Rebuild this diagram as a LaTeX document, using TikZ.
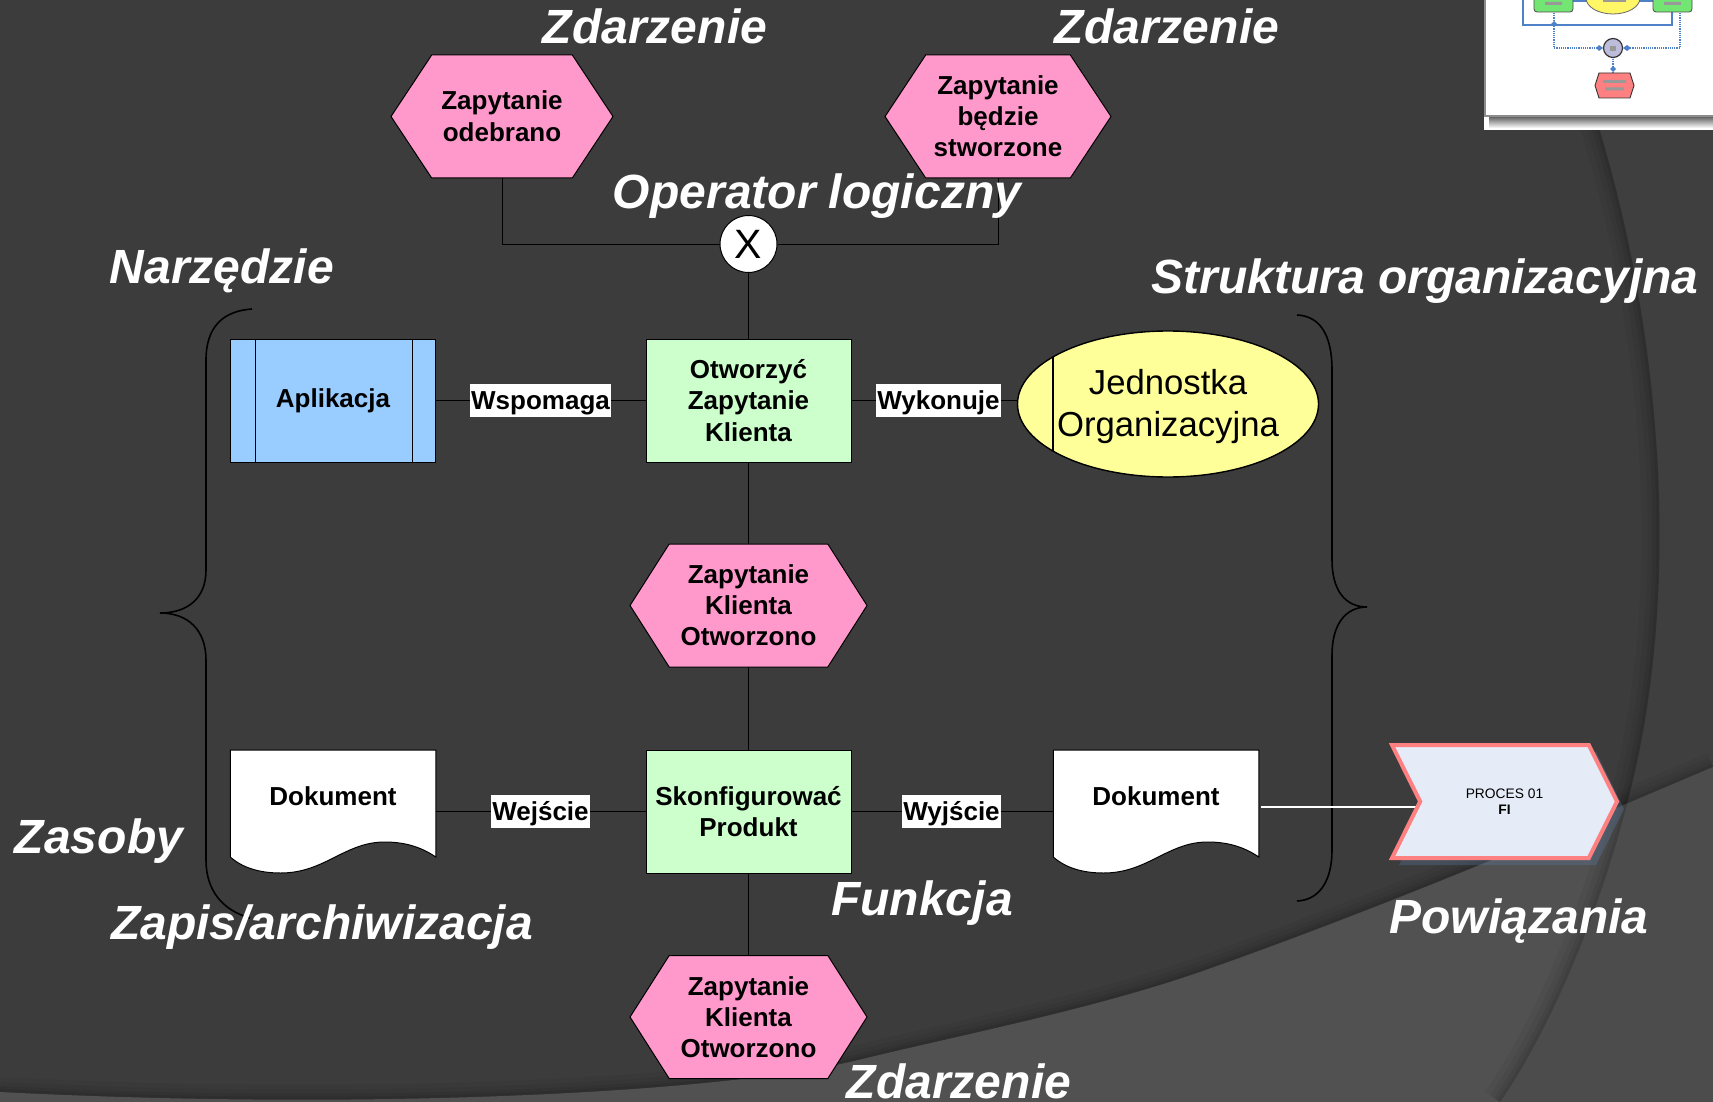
\documentclass[tikz,border=0pt]{standalone}
\usepackage{fontspec}
\setmainfont{Liberation Sans}
\usetikzlibrary{shapes.geometric,shapes.symbols,calc,backgrounds}
\definecolor{bgdark}{HTML}{3C3C3C}
\definecolor{bglight}{HTML}{515151}
\definecolor{pinkev}{HTML}{FF99CC}
\definecolor{greenfn}{HTML}{CCFFCC}
\definecolor{bluetool}{HTML}{99CCFF}
\definecolor{yelorg}{HTML}{FFFF99}
\definecolor{procfill}{HTML}{E6ECF7}
\definecolor{procline}{HTML}{FF8080}
\definecolor{procshadow}{HTML}{5F80AA}
\definecolor{thumbblue}{HTML}{4F81C9}
\tikzset{
  x=1pt,y=-1pt,
  caption/.style={anchor=base,text=white,font=\fontsize{48}{54}\selectfont\bfseries\itshape,inner sep=0pt},
  boxtext/.style={font=\fontsize{26}{31.2}\selectfont\bfseries,align=center,text=black,inner sep=0pt,outer sep=0pt},
  eventhex/.style={boxtext,shape=signal,signal from=nowhere,signal to=east and west,fill=pinkev,draw=black,line width=1pt,minimum height=123pt},
  funcbox/.style={boxtext,rectangle,fill=greenfn,draw=black,line width=1pt,minimum width=205pt,minimum height=123pt},
  docbox/.style={boxtext,rectangle,minimum width=205.5pt,minimum height=123pt},
  linklabel/.style={boxtext,rectangle,fill=white,minimum height=33pt,text height=18pt,text depth=0pt},
  conn/.style={draw=black,line width=1pt},
  brace/.style={draw=black,line width=1.6pt},
}
\newcommand{\docshape}[1]{%
  \path[fill=white,draw=black,line width=1pt]
    (#1.north west) -- (#1.north east) -- ($(#1.south east)+(0,-16)$)
    .. controls ($(#1.south east)+(-16,-27)$) and ($(#1.south east)+(-33,-31)$) .. ($(#1.south east)+(-51,-31)$)
    .. controls ($(#1.south east)+(-91,-31)$) and ($(#1.south east)+(-111,0)$) .. ($(#1.south east)+(-155,0)$)
    .. controls ($(#1.south east)+(-176,0)$) and ($(#1.south east)+(-193,-5)$) .. ($(#1.south west)+(0,-16)$)
    -- cycle;}
\begin{document}
\begin{tikzpicture}
\useasboundingbox (0,0) rectangle (1713,1102);
\begin{scope}[on background layer]
% background
\fill[bgdark] (0,0) rectangle (1713,1102);
\def\swoosh{(1713,767) .. controls (1560,832) and (1390,905) .. (1200,972) .. controls (1090,1010) and (960,1035) .. (850,1062) .. controls (700,1095) and (350,1110) .. (0,1092)}
\foreach \w/\o in {30/.04,20/.05,12/.06,6/.07}{\draw[black,opacity=\o,line width=\w pt] \swoosh;}
\fill[bglight] \swoosh -- (0,1102) -- (1713,1102) -- cycle;
% right arc
\def\arc{(1590,100) .. controls (1640,250) and (1680,480) .. (1648,700) .. controls (1630,830) and (1570,1000) .. (1500,1102)}
\begin{scope}
\clip \arc -- (1713,1102) -- (1713,100) -- cycle;
\fill[white,opacity=.02] (1500,100) rectangle (1713,1102);
\fill[black,opacity=.09] \swoosh -- (1500,1102) -- (1713,1102) -- cycle;
\end{scope}
\begin{scope}
\clip \arc -- (1300,1102) -- (1300,100) -- cycle;
\foreach \w/\o in {36/.04,24/.05,14/.06,6/.07}{\draw[black,opacity=\o,line width=\w pt] \arc;}
\end{scope}
% thumbnail
\fill[white] (1484,0) rectangle (1713,130);
\shade[top color=black!60,bottom color=white] (1489,117) rectangle (1713,128);
\draw[black!45,line width=1.5pt] (1485,0) -- (1485,116) -- (1713,116);
\begin{scope}
\clip (1486,0) rectangle (1713,115);
\draw[thumbblue,line width=1.2pt] (1523,-2) -- (1523,25) -- (1672,25) -- (1672,10);
\draw[thumbblue,line width=1.2pt] (1573,1) -- (1653,1);
\draw[thumbblue,line width=1.2pt,densely dotted] (1554,13) -- (1554,48) -- (1603,48);
\draw[thumbblue,line width=1.2pt,densely dotted] (1680,13) -- (1680,48) -- (1623,48);
\draw[thumbblue,line width=1.2pt,densely dotted] (1613,59) -- (1613,73);
\fill[thumbblue] (1554,21) -- (1557,24) -- (1554,27) -- (1551,24) -- cycle
 (1599,45) -- (1603,48) -- (1599,51) -- (1596,48) -- cycle
 (1627,45) -- (1631,48) -- (1627,51) -- (1623,48) -- cycle
 (1613,66) -- (1616,69) -- (1613,72) -- (1610,69) -- cycle;
\draw[black!70,fill=green!50!white!90!black,line width=.8pt,rounded corners=3pt] (1534,-6) rectangle (1573,12);
\draw[black!70,fill=green!50!white!90!black,line width=.8pt,rounded corners=3pt] (1653,-6) rectangle (1692,12);
\draw[black!60,fill=yellow!60,line width=.8pt] (1613,-2) ellipse [x radius=27,y radius=16];
\fill[black!40] (1545,2) rectangle (1562,5) (1664,2) rectangle (1681,5) (1603,-2) rectangle (1626,2);
\draw[black!80,fill=blue!30!gray!40!white,line width=1.2pt] (1613,48) circle [radius=9.5];
\fill[black!40] (1610,46) rectangle (1616,51);
\draw[black!80,fill=procline,line width=.9pt] (1599,73) -- (1630,73) -- (1634,85.5) -- (1630,98) -- (1599,98) -- (1595,85.5) -- cycle;
\fill[black!40] (1603,80) rectangle (1626,83) (1605,87.5) rectangle (1624,90.5);
\end{scope}
% braces
\draw[brace] (252,309) .. controls (222,311) and (206,328) .. (206,360) -- (206,570) .. controls (206,598) and (188,613) .. (160,613) .. controls (188,613) and (206,630) .. (206,660) -- (206,860) .. controls (206,890) and (222,910) .. (250,918);
\draw[brace] (1297,315) .. controls (1320,316) and (1332,335) .. (1332,370) -- (1332,560) .. controls (1332,590) and (1345,607) .. (1367,607) .. controls (1345,607) and (1332,625) .. (1332,655) -- (1332,850) .. controls (1332,880) and (1320,900) .. (1297,901);
% process shadow
\fill[procshadow,opacity=.3] (1399,752) -- (1596,752) -- (1624,809) -- (1596,865) -- (1399,865) -- (1427,809) -- cycle;
\end{scope}

% nodes
\node[eventhex,minimum width=222pt,signal pointer angle=113] (ev1) at (502,116.5) {\raisebox{1pt}{Zapytanie}\\\raisebox{1pt}{odebrano}};
\node[eventhex,minimum width=226pt,signal pointer angle=113] (ev2) at (998,116.5) {\raisebox{1pt}{Zapytanie}\\\raisebox{1pt}{będzie}\\\raisebox{1pt}{stworzone}};
\node[circle,fill=white,draw=black,line width=1pt,minimum size=57pt,inner sep=0pt,font=\fontsize{41}{41}\selectfont] (xor) at (748.5,244) {X};
\node[funcbox] (fn1) at (748.5,400.5) {Otworzyć\\Zapytanie\\Klienta};
\node[boxtext,rectangle,fill=bluetool,draw=black,line width=1pt,minimum width=205.5pt,minimum height=123pt] (app) at (333,400.5) {\raisebox{-1pt}{Aplikacja}};
\draw[black,line width=1pt] (255,339) -- (255,462) (412,339) -- (412,462);
\node[ellipse,fill=yelorg,draw=black,line width=1.4pt,minimum width=301pt,minimum height=146pt,inner sep=0pt] (org) at (1168,404) {};
\node[inner sep=0pt,align=center,text=black,font=\fontsize{34.7}{42}\selectfont] (orgtext) at (1168,407) {Jednostka\\Organizacyjna};
\draw[black,line width=1.2pt] ($(org.center)+(-115,-47)$) -- ($(org.center)+(-115,47)$);
\node[eventhex,minimum width=237pt,signal pointer angle=115] (ev3) at (748.5,605.5) {Zapytanie\\Klienta\\Otworzono};
\node[funcbox] (fn2) at (748.5,811.5) {Skonfigurować\\Produkt};
\node[docbox] (doc1) at (333,811.5) {Dokument\\\phantom{X}};
\node[docbox] (doc2) at (1156,811.5) {Dokument\\\phantom{X}};
\node[eventhex,minimum width=237pt,signal pointer angle=115] (ev4) at (748.5,1017) {Zapytanie\\Klienta\\Otworzono};
\node[linklabel,minimum width=141pt] (l1) at (540.5,400.5) {Wspomaga};
\node[linklabel,minimum width=125pt] (l2) at (938.5,400.5) {Wykonuje};
\node[linklabel,minimum width=99pt] (l3) at (540.5,811.5) {Wejście};
\node[linklabel,minimum width=99pt] (l4) at (951.5,811.5) {Wyjście};
\node[boxtext,shape=signal,signal from=west,signal to=east,signal pointer angle=127,font=\fontsize{13.8}{16.5}\selectfont,fill=procfill,draw=procline,line width=4pt,minimum width=225pt,minimum height=113pt] (proc) at (1504.5,801.5) {\raisebox{-2pt}{PROCES 01}\\\raisebox{-2pt}{\textbf{FI}}};

% captions
\node[caption] (c1) at (655,44) {Zdarzenie};
\node[caption] (c2) at (1167,44) {Zdarzenie};
\node[caption] (c3) at (817,209) {Operator logiczny};
\node[caption] (c4) at (222,283) {Narzędzie};
\node[caption] (c5) at (1425,293) {Struktura organizacyjna};
\node[caption] (c6) at (99,853) {Zasoby};
\node[caption] (c7) at (322,939) {Zapis/archiwizacja};
\node[caption] (c8) at (922,915) {Funkcja};
\node[caption] (c9) at (1519,933) {Powiązania};
\node[caption] (c10) at (959,1098) {Zdarzenie};

% connectors and document shapes under the nodes
\begin{scope}[on background layer]
\docshape{doc1}
\docshape{doc2}
\draw[conn] (ev1.south) |- (xor.west);
\draw[conn] (ev2.south) |- (xor.east);
\draw[conn] (xor.south) -- (fn1.north);
\draw[conn] (fn1.south) -- (ev3.north);
\draw[conn] (ev3.south) -- (fn2.north);
\draw[conn] (fn2.south) -- (ev4.north);
\draw[conn] (app.east) -- (l1.west);
\draw[conn] (l1.east) -- (fn1.west);
\draw[conn] (fn1.east) -- (l2.west);
\draw[conn] (l2.east) -- (l2.east -| org.center);
\draw[conn] (doc1.east) -- (l3.west);
\draw[conn] (l3.east) -- (fn2.west);
\draw[conn] (fn2.east) -- (l4.west);
\draw[conn] (l4.east) -- (doc2.west);
\draw[white,line width=2pt] ($(doc2.east)+(2,-5)$) -- ($(proc.west)+(0,5)$);
\end{scope}
\end{tikzpicture}
\end{document}
